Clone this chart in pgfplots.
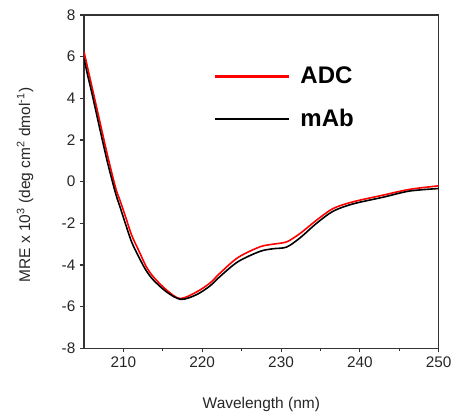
\documentclass[border=0pt]{standalone}
\usepackage{fontspec}
\setmainfont{Liberation Sans}
\usepackage{pgfplots}
\pgfplotsset{compat=1.18}

\begin{document}
\begin{tikzpicture}
\useasboundingbox (-63pt,-48.75pt) rectangle (276pt,261.25pt);
\begin{axis}[
    at={(0,0)}, anchor=south west,
    scale only axis, width=266pt, height=250pt,
    xmin=205, xmax=250, ymin=-8, ymax=8,
    xtick={210,220,...,250}, minor x tick num=1,
    ytick={-8,-6,...,8},
    xtick pos=bottom, ytick pos=left,
    tick align=outside,
    major tick length=3pt, minor tick length=2pt,
    every tick/.style={black!80, line width=0.8pt},
    axis line style={black!80, line width=1pt},
    /pgf/number format/assume math mode=true,
    ticklabel style={font=\fontsize{11.5}{13}\selectfont, text=black!85},
    label style={font=\fontsize{11.6}{13}\selectfont, text=black!85},
    xlabel={Wavelength (nm)},
    ylabel={MRE x 10\textsuperscript{3} (deg cm\textsuperscript{2} dmol\textsuperscript{-1})},
    xlabel style={at={(axis description cs:0.5,-0.168)}, anchor=center},
    ylabel style={at={(axis description cs:-0.166,0.49)}, anchor=center},
    legend style={draw=none, fill=none, at={(0.366,0.853)}, anchor=north west,
        font=\bfseries\fontsize{18}{20}\selectfont, row sep=13.5pt, inner sep=0pt,
        /tikz/every odd column/.append style={column sep=6pt}},
    legend cell align=left,
    legend image code/.code={\draw[#1, line width=1.8pt] (0pt,0pt) -- (55pt,0pt);},
]
\addplot[red, line width=1.2pt, smooth] coordinates {
(205.0,6.24) (205.5,5.40) (206.0,4.57) (207.0,2.90) (208.0,1.24)
(209.0,-0.28) (209.56,-0.89) (210.2,-1.6) (211.05,-2.57) (212.0,-3.35)
(212.86,-4.05) (213.8,-4.57) (215.5,-5.21) (217.2,-5.61) (219.3,-5.29)
(221.0,-4.86) (222.2,-4.41) (224.5,-3.65) (227.3,-3.13) (229.0,-3.00)
(230.7,-2.89) (232.4,-2.49) (234.5,-1.85) (236.6,-1.29) (239.1,-0.97)
(242.9,-0.65) (246.3,-0.37) (250.0,-0.20)
};
\addlegendentry{ADC}
\addplot[black, line width=1.2pt, smooth] coordinates {
(205.0,5.90) (205.5,5.05) (206.0,4.25) (207.0,2.55) (208.0,0.90)
(209.0,-0.55) (209.56,-1.20) (210.2,-1.95) (211.05,-2.90) (212.0,-3.65)
(212.86,-4.25) (213.8,-4.72) (215.5,-5.30) (217.3,-5.65) (219.3,-5.42)
(221.0,-5.00) (222.2,-4.57) (224.5,-3.85) (227.3,-3.35) (229.0,-3.22)
(230.7,-3.14) (232.4,-2.70) (234.5,-2.00) (236.6,-1.42) (239.1,-1.07)
(242.9,-0.75) (246.3,-0.45) (250.0,-0.33)
};
\addlegendentry{mAb}
\end{axis}
\end{tikzpicture}
\end{document}
